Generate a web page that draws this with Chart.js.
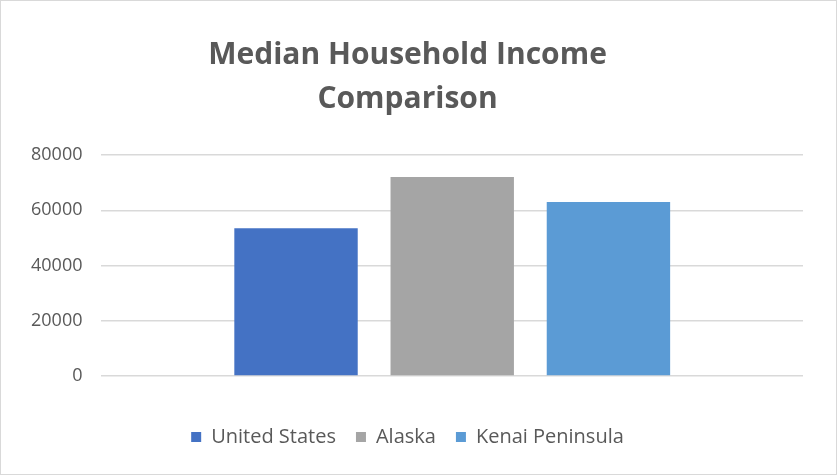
<!DOCTYPE html>
<html>
<head>
<meta charset="utf-8">
<script src="https://cdn.jsdelivr.net/npm/chart.js@4"></script>
<style>
  body { margin: 0; background: #fff; }
  #wrap { width: 837px; height: 475px; box-sizing: border-box; border: 1px solid #d9d9d9; }
</style>
</head>
<body>
<div id="wrap"><canvas id="bar-chart"></canvas></div>
<script>
const regions = ['United States', 'Alaska', 'Kenai Peninsula'];
const incomes = [53500, 72000, 63000];
const colors = ['#4472c4', '#a5a5a5', '#5b9bd5'];
const yTicks = [0, 20000, 40000, 60000, 80000];

const sets = regions.map((r, i) => ({
  label: r,
  data: [incomes[i]],
  backgroundColor: colors[i],
  barPercentage: 0.79,
  categoryPercentage: 0.668
}));

ct = new Chart(document.getElementById('bar-chart'), {
  type: 'bar',
  data: { labels: [''], datasets: sets },
  options: {
    responsive: true,
    maintainAspectRatio: false,
    animation: false,
    layout: { padding: { left: 11, right: 33, top: 0, bottom: 17 } },
    plugins: {
      title: {
        display: true,
        text: ['Median Household Income', 'Comparison'],
        color: '#595959',
        font: { family: 'Open Sans', size: 30, weight: 'bold', lineHeight: 1.45 },
        padding: { top: 33, bottom: 34 }
      },
      legend: {
        position: 'bottom',
        labels: {
          color: '#595959',
          font: { family: 'Open Sans', size: 20 },
          boxWidth: 10,
          boxHeight: 10,
          padding: 20
        }
      },
      tooltip: { enabled: false }
    },
    scales: {
      x: {
        grid: { display: false },
        border: { display: false },
        ticks: { display: false },
        afterFit: (axis) => { axis.height = 31; }
      },
      y: {
        min: 0,
        max: 80000,
        afterBuildTicks: (axis) => { axis.ticks = yTicks.map(v => ({ value: v })); },
        grid: { color: '#d9d9d9', lineWidth: 1.5, drawTicks: false },
        border: { display: false },
        ticks: {
          color: '#595959',
          font: { family: 'Open Sans', size: 18 },
          padding: 19,
          callback: (v) => String(v)
        }
      }
    }
  }
});
</script>
</body>
</html>
